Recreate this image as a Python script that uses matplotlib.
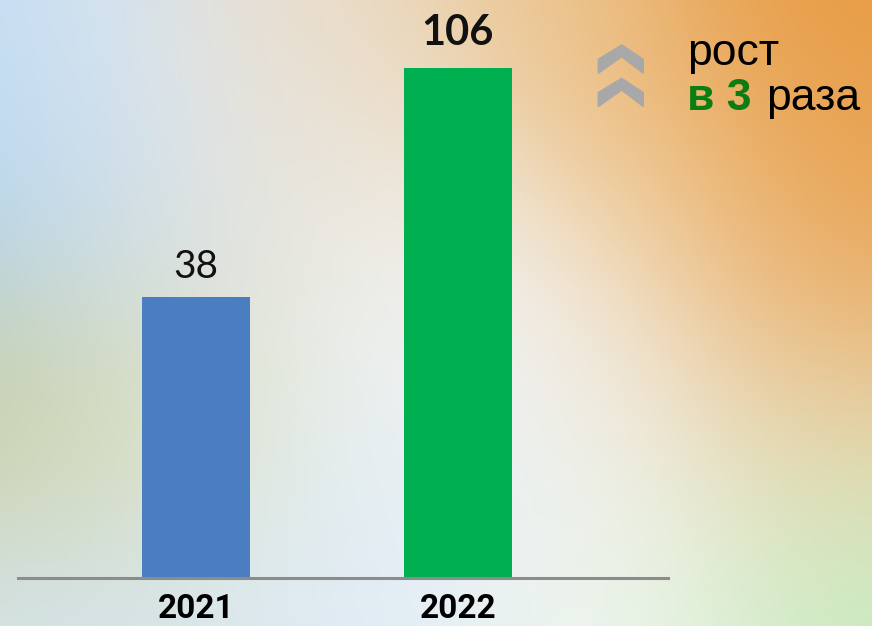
import numpy as np
import matplotlib

matplotlib.use("Agg")
import matplotlib.pyplot as plt
from matplotlib.patches import Polygon

# data
years = ["2021", "2022"]
values = [38, 106]
bar_colors = ["#4a7ec1", "#00b050"]
value_weights = ["normal", "bold"]

W, H = 872, 626
fig = plt.figure(figsize=(W / 100, H / 100), dpi=100)


def px(x, y):
    """pixel coords (top-left origin) -> figure fraction"""
    return x / W, 1 - y / H


# soft multicolour background (decoration only)
yy, xx = np.mgrid[0:H, 0:W]
anchors = [
    (30, 30, "#c4def4"), (150, 90, "#e6ecf2"), (300, 20, "#ead9c2"), (560, 20, "#ecc896"),
    (760, 30, "#e8983e"), (860, 150, "#e8a04c"), (830, 300, "#e9ad66"), (660, 180, "#efcfa0"),
    (30, 200, "#a8d0f2"), (160, 260, "#dfe4e4"), (330, 180, "#ece4d6"), (430, 300, "#f3f6f8"),
    (30, 400, "#c8cc9a"), (200, 420, "#e2e6c8"), (420, 470, "#e9f1fa"), (300, 560, "#dceaf6"),
    (60, 600, "#d4e4ec"), (620, 560, "#eef6ee"), (840, 560, "#c4eec2"), (820, 430, "#eed8b8"),
    (600, 380, "#f2ece2"),
]
acc = np.zeros((H, W, 3))
wsum = np.zeros((H, W))
for ax_, ay_, c in anchors:
    w = np.exp(-((xx - ax_) ** 2 + (yy - ay_) ** 2) / (2 * 110.0 ** 2))
    acc += w[..., None] * np.array(matplotlib.colors.to_rgb(c))
    wsum += w
bg = acc / wsum[..., None]
bg_ax = fig.add_axes([0, 0, 1, 1], zorder=0)
bg_ax.imshow(bg, aspect="auto", interpolation="bilinear")
bg_ax.axis("off")

# main chart
x0, y0 = px(18, 578)
x1, y1 = px(668, 0)
ax = fig.add_axes([x0, y0, x1 - x0, y1 - y0], zorder=1)
ax.patch.set_alpha(0)

p = 0.581  # compressed value axis, as in the original slide
ax.set_yscale("function", functions=(lambda v: np.power(np.clip(v, 0, None), p),
                                     lambda v: np.power(np.clip(v, 0, None), 1 / p)))
ax.set_ylim(0, 131.4)
ax.set_xlim(-0.679, 1.802)

pos = np.arange(len(years))
ax.bar(pos, values, width=0.412, color=bar_colors, zorder=2)

offsets = [13.7, 16.5]
sizes = [28, 30]
for i, v in enumerate(values):
    ax.annotate(str(v), (pos[i], v), xytext=(0, offsets[i]), textcoords="offset points",
                ha="center", va="baseline", fontsize=sizes[i], family="Lato",
                fontweight=value_weights[i], color="#111111")

ax.set_xticks(pos, years, fontsize=24, fontweight="bold", family="Roboto")
ax.tick_params(axis="x", length=0, pad=11)
ax.set_yticks([])
for s in ["left", "right", "top"]:
    ax.spines[s].set_visible(False)
ax.spines["bottom"].set_color("#8c8c8c")
ax.spines["bottom"].set_linewidth(2.2)

# growth note with double chevron
grey = "#a8a8a8"
for dy in (0, 33.3):
    pts = [(621.7, 45), (598.3, 59.3), (598.3, 73.3), (621.7, 56.7), (643.3, 73.3), (643.3, 59.3)]
    fig.add_artist(Polygon([px(x, y + dy) for x, y in pts], closed=True,
                           transform=fig.transFigure, color=grey, zorder=3))

fig.text(*px(687, 65), "рост", fontsize=32, family="Liberation Sans", va="baseline", zorder=3)
fig.text(*px(687, 110), "в 3", fontsize=32, family="Liberation Sans", fontweight="bold",
         color="#0b7d12", va="baseline", zorder=3)
fig.text(*px(766, 110), "раза", fontsize=32, family="Liberation Sans", va="baseline", zorder=3)

fig.savefig("out.png", dpi=100)
